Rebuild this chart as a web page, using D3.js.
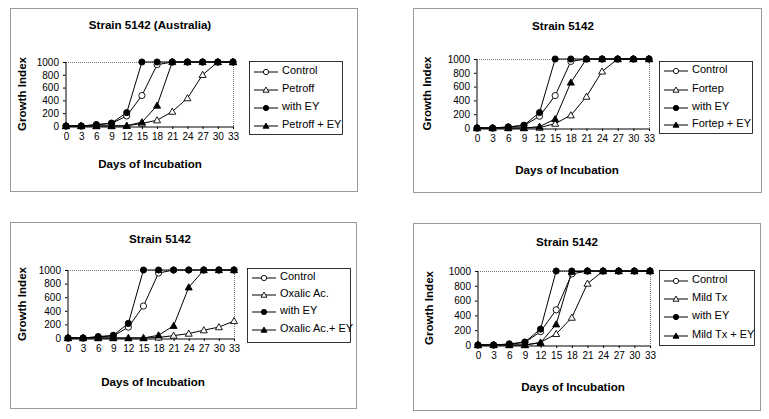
<!DOCTYPE html>
<html><head><meta charset="utf-8">
<script src="https://cdn.jsdelivr.net/npm/d3@7"></script>
<style>
body{margin:0;background:#fff;}
svg{display:block;font-family:Arial,"Liberation Sans",sans-serif;}
</style></head>
<body>
<svg id="c" width="769" height="419"></svg>
<script>
const days = [0,3,6,9,12,15,18,21,24,27,30,33];
const yTicks = [0,200,400,600,800,1000];
const titles = ["Strain 5142 (Australia)","Strain 5142","Strain 5142","Strain 5142"];
const treatments = ["Petroff","Fortep","Oxalic Ac.","Mild Tx"];
const legendLabels = [
  ["Control","Petroff","with EY","Petroff + EY"],
  ["Control","Fortep","with EY","Fortep + EY"],
  ["Control","Oxalic Ac.","with EY","Oxalic Ac.+ EY"],
  ["Control","Mild Tx","with EY","Mild Tx + EY"]
];
const xTitle = "Days of Incubation";
const yTitle = "Growth Index";

// panel 1
const p1Control = [0,0,20,40,157,476,958,1000,1000,1000,1000,1000];
const p1Treat   = [0,0,0,0,3,40,90,225,435,800,1000,1000];
const p1EY      = [0,0,20,45,210,1000,1000,1000,1000,1000,1000,1000];
const p1TreatEY = [0,0,0,0,5,60,320,1000,1000,1000,1000,1000];
// panel 2
const p2Control = [0,0,15,35,170,470,965,1000,1000,1000,1000,1000];
const p2Treat   = [0,0,0,0,5,63,185,455,820,1000,1000,1000];
const p2EY      = [0,0,15,40,225,1000,1000,1000,1000,1000,1000,1000];
const p2TreatEY = [0,0,0,0,20,130,660,1000,1000,1000,1000,1000];
// panel 3
const p3Control = [0,0,15,30,160,470,955,1000,1000,1000,1000,1000];
const p3Treat   = [0,0,0,0,0,0,8,35,65,115,160,250];
const p3EY      = [0,0,20,40,215,1000,1000,1000,1000,1000,1000,1000];
const p3TreatEY = [0,0,0,0,0,0,40,180,745,1000,1000,1000];
// panel 4
const p4Control = [0,0,10,35,180,475,960,1000,1000,1000,1000,1000];
const p4Treat   = [0,0,0,0,35,150,370,830,1000,1000,1000,1000];
const p4EY      = [0,0,15,40,215,1000,1000,1000,1000,1000,1000,1000];
const p4TreatEY = [0,0,0,0,30,280,990,1000,1000,1000,1000,1000];

const panelSeries = [
  [p1Control,p1Treat,p1EY,p1TreatEY],
  [p2Control,p2Treat,p2EY,p2TreatEY],
  [p3Control,p3Treat,p3EY,p3TreatEY],
  [p4Control,p4Treat,p4EY,p4TreatEY]
];
const markerKinds = ["circleOpen","triOpen","circleFill","triFill"];

// layout (positions only)
const layouts = [
  {frame:[10,8,357,191], px:[66,233], py:[62,126], leg:[249,61,342,134], legY:[70,88,106,124], tx:150, ty:25, xlx:150, xly:164, ylx:22},
  {frame:[413,8,761,192], px:[477,649], py:[59,128], leg:[659,61,752,133], legY:[69,88,106,123], tx:563, ty:26, xlx:567, xly:170, ylx:427},
  {frame:[10,222,356,408], px:[68,234], py:[270,338], leg:[247,268,350,342], legY:[276,293,310,328], tx:160, ty:239, xlx:153, xly:382, ylx:22},
  {frame:[413,223,760,410], px:[478,650], py:[271,345], leg:[659,270,754,345], legY:[279,297,315,334], tx:567, ty:242, xlx:573, xly:387, ylx:429}
];

const svg = d3.select("#c");

function drawMarker(g, kind, x, y, k) {
  k = k || 1;
  if (kind.startsWith("circle")) {
    g.append("circle").attr("cx",x).attr("cy",y).attr("r",3.1*k)
      .attr("fill", kind==="circleFill" ? "#000" : "#fff")
      .attr("stroke","#000").attr("stroke-width",0.9);
  } else {
    const s = 3.5*k;
    g.append("path")
      .attr("d", `M${x},${y-s}L${x+s},${y+s*0.75}L${x-s},${y+s*0.75}Z`)
      .attr("fill", kind==="triFill" ? "#000" : "#fff")
      .attr("stroke","#000").attr("stroke-width",0.9);
  }
}

layouts.forEach((L, pi) => {
  const g = svg.append("g");
  const [fx0,fy0,fx1,fy1] = L.frame;
  g.append("rect").attr("x",fx0+0.5).attr("y",fy0+0.5).attr("width",fx1-fx0).attr("height",fy1-fy0)
    .attr("fill","#fff").attr("stroke","#9a9a9a").attr("stroke-width",1);

  const x = d3.scaleLinear().domain([0,33]).range(L.px);
  const y = d3.scaleLinear().domain([0,1000]).range([L.py[1], L.py[0]]);

  // plot area top/right border (dotted grey)
  g.append("path")
    .attr("d", `M${L.px[0]},${L.py[0]+0.5}H${L.px[1]+0.5}V${L.py[1]}`)
    .attr("fill","none").attr("stroke","#777").attr("stroke-width",1).attr("stroke-dasharray","1,1");

  const xAxis = g.append("g").attr("transform",`translate(0,${L.py[1]+0.5})`)
    .call(d3.axisBottom(x).tickValues(days).tickSize(2.5).tickPadding(4).tickFormat(d3.format("d")));
  const yAxis = g.append("g").attr("transform",`translate(${L.px[0]-0.5},0)`)
    .call(d3.axisLeft(y).tickValues(yTicks).tickSize(2.5).tickPadding(4).tickFormat(d3.format("d")));
  [xAxis,yAxis].forEach(a => {
    a.select(".domain").attr("stroke","#000");
    a.selectAll(".tick line").attr("stroke","#000");
    a.selectAll("text").attr("font-size","10px").attr("font-family","Arial, 'Liberation Sans', sans-serif").attr("fill","#000");
  });

  const line = d3.line().x((d,i)=>x(days[i])).y(d=>y(d));
  panelSeries[pi].forEach((vals, si) => {
    const sg = g.append("g");
    sg.append("path").datum(vals).attr("d", line).attr("fill","none").attr("stroke","#000").attr("stroke-width",1);
    vals.forEach((v,i) => drawMarker(sg, markerKinds[si], x(days[i]), y(v)));
  });

  // titles
  g.append("text").attr("x",L.tx).attr("y",L.ty).attr("dy","0.35em").attr("text-anchor","middle")
    .attr("font-weight","bold").attr("font-size","11.6px").text(titles[pi]);
  g.append("text").attr("x",L.xlx).attr("y",L.xly).attr("dy","0.35em").attr("text-anchor","middle")
    .attr("font-weight","bold").attr("font-size","11.6px").text(xTitle);
  g.append("text").attr("transform",`translate(${L.ylx},${(L.py[0]+L.py[1])/2}) rotate(-90)`)
    .attr("dy","0.35em").attr("text-anchor","middle")
    .attr("font-weight","bold").attr("font-size","11.6px").text(yTitle);

  // legend
  const [lx0,ly0,lx1,ly1] = L.leg;
  g.append("rect").attr("x",lx0+0.5).attr("y",ly0+0.5).attr("width",lx1-lx0).attr("height",ly1-ly0)
    .attr("fill","#fff").attr("stroke","#000").attr("stroke-width",0.8);
  legendLabels[pi].forEach((lab, si) => {
    const yy = L.legY[si];
    g.append("line").attr("x1",lx0+5).attr("x2",lx0+29).attr("y1",yy+2).attr("y2",yy+2)
      .attr("stroke","#000").attr("stroke-width",1);
    drawMarker(g, markerKinds[si], lx0+17, yy+2, 0.85);
    g.append("text").attr("x",lx0+33).attr("y",yy).attr("dy","0.35em")
      .attr("font-size","11px").text(lab);
  });
});
</script>
</body></html>
